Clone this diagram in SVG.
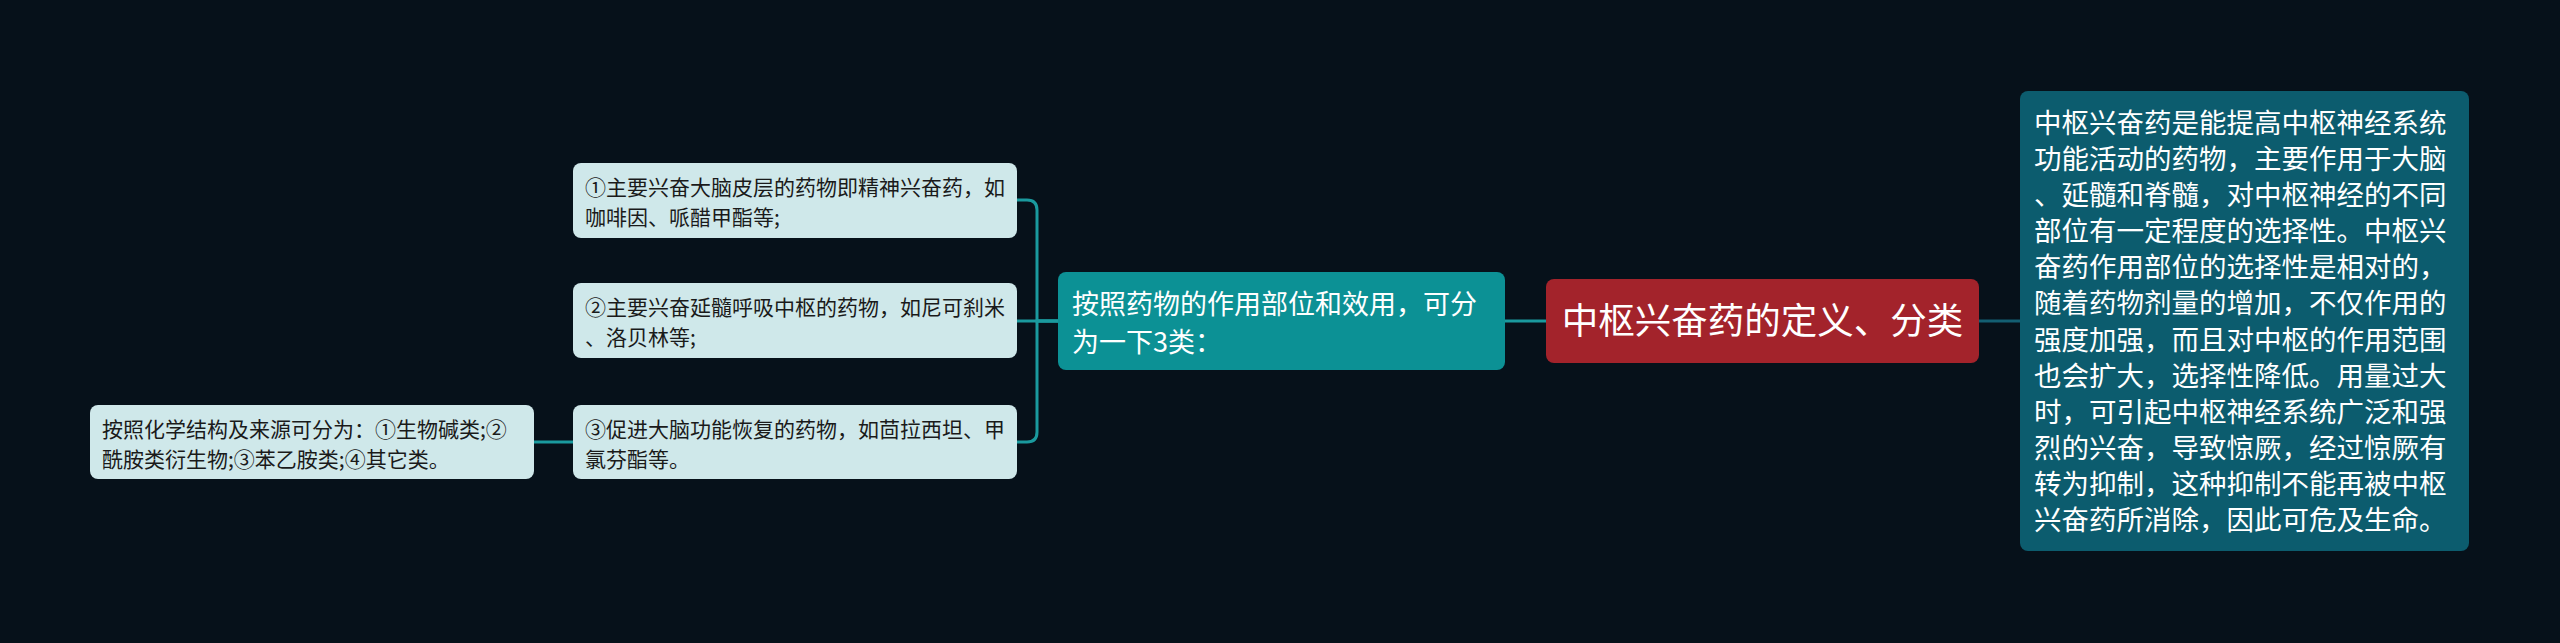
<svg xmlns="http://www.w3.org/2000/svg" width="2560" height="643" viewBox="0 0 2560 643">
<style>
.bg{fill:#06111a}
.lt{fill:#cfe8ea}
.lt-t{font-family:"Noto Sans CJK SC","Noto Sans",sans-serif;font-size:21px;fill:#1a1a1a}
.tl{fill:#0c9195}
.wt{font-family:"Noto Sans CJK SC","Noto Sans",sans-serif;fill:#ffffff}
.c1{fill:none;stroke:#1a9a9e;stroke-width:3}
.c2{fill:none;stroke:#135f72;stroke-width:3}
</style>
<rect class="bg" x="0" y="0" width="2560" height="643"/>
<g id="connectors">
<path class="c1" d="M1058,321 H1037 V210 Q1037,200 1027,200 H1017"/>
<path class="c1" d="M1058,321 H1017"/>
<path class="c1" d="M1058,321 H1037 V432 Q1037,442 1027,442 H1017"/>
<path class="c1" d="M573,442 H534"/>
<path class="c1" d="M1546,321 H1505"/>
<path class="c2" d="M1979,321 H2020"/>
</g>
<g id="item1">
<rect class="lt" x="573" y="163" width="444" height="75" rx="8"/>
<text class="lt-t" x="585" y="195">①主要兴奋大脑皮层的药物即精神兴奋药，如</text>
<text class="lt-t" x="585" y="225">咖啡因、哌醋甲酯等;</text>
</g>
<g id="item2">
<rect class="lt" x="573" y="283" width="444" height="75" rx="8"/>
<text class="lt-t" x="585" y="315">②主要兴奋延髓呼吸中枢的药物，如尼可刹米</text>
<text class="lt-t" x="585" y="345">、洛贝林等;</text>
</g>
<g id="item3">
<rect class="lt" x="573" y="405" width="444" height="74" rx="8"/>
<text class="lt-t" x="585" y="437">③促进大脑功能恢复的药物，如茴拉西坦、甲</text>
<text class="lt-t" x="585" y="467">氯芬酯等。</text>
</g>
<g id="chem">
<rect class="lt" x="90" y="405" width="444" height="74" rx="8"/>
<text class="lt-t" x="102" y="437">按照化学结构及来源可分为：①生物碱类;②</text>
<text class="lt-t" x="102" y="467">酰胺类衍生物;③苯乙胺类;④其它类。</text>
</g>
<g id="mid">
<rect class="tl" x="1058" y="272" width="447" height="98" rx="8"/>
<text class="wt" x="1072" y="314" font-size="27">按照药物的作用部位和效用，可分</text>
<text class="wt" x="1072" y="352" font-size="27">为一下3类：</text>
</g>
<g id="root">
<rect x="1546" y="279" width="433" height="84" rx="8" fill="#a3232b"/>
<text class="wt" x="1762.5" y="334" font-size="36.5" text-anchor="middle">中枢兴奋药的定义、分类</text>
</g>
<g id="def">
<rect x="2020" y="91" width="449" height="460" rx="8" fill="#0c5c6e"/>
<text class="wt" font-size="27.5">
<tspan x="2034" y="133">中枢兴奋药是能提高中枢神经系统</tspan>
<tspan x="2034" y="169">功能活动的药物，主要作用于大脑</tspan>
<tspan x="2034" y="205">、延髓和脊髓，对中枢神经的不同</tspan>
<tspan x="2034" y="241">部位有一定程度的选择性。中枢兴</tspan>
<tspan x="2034" y="277">奋药作用部位的选择性是相对的，</tspan>
<tspan x="2034" y="313">随着药物剂量的增加，不仅作用的</tspan>
<tspan x="2034" y="350">强度加强，而且对中枢的作用范围</tspan>
<tspan x="2034" y="386">也会扩大，选择性降低。用量过大</tspan>
<tspan x="2034" y="422">时，可引起中枢神经系统广泛和强</tspan>
<tspan x="2034" y="458">烈的兴奋，导致惊厥，经过惊厥有</tspan>
<tspan x="2034" y="494">转为抑制，这种抑制不能再被中枢</tspan>
<tspan x="2034" y="530">兴奋药所消除，因此可危及生命。</tspan>
</text>
</g>
</svg>
